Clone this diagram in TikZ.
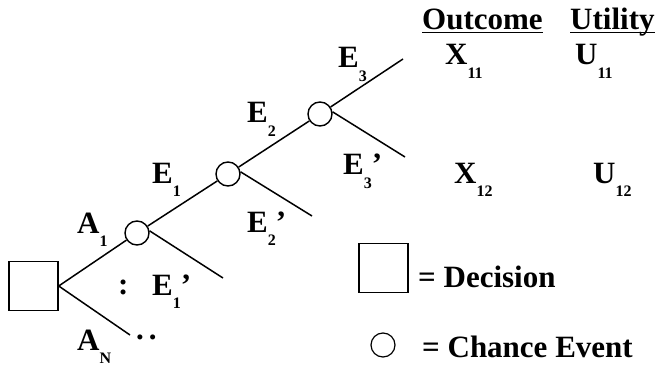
\documentclass[tikz,border=0pt]{standalone}
\usepackage{fontspec}
\setmainfont{Liberation Serif}
\newcommand{\lo}[1]{\raisebox{-0.42em}{\fontsize{16}{16}\selectfont #1}}
\begin{document}
\begin{tikzpicture}[x=1pt,y=-1pt,
    lbl/.style={anchor=base west,inner sep=0pt,font=\fontsize{31}{31}\selectfont\bfseries},
    chance/.style={draw,circle,line width=1.4pt,minimum size=24pt,inner sep=0pt},
    decision/.style={draw,rectangle,line width=1.4pt,minimum width=49pt,minimum height=49pt,inner sep=0pt},
    branch/.style={line width=1.5pt}]
            \useasboundingbox (0,0) rectangle (658,366);

            % Decision node and chance nodes
            \node[decision] (d) at (33.5,286) {};
            \node[chance] (c1) at (137,233) {};
            \node[chance] (c2) at (228,174) {};
            \node[chance] (c3) at (320,114) {};

            % Free branch ends
            \coordinate (aN) at (130,335);
            \coordinate (e1p) at (223,278);
            \coordinate (e2p) at (312,216);
            \coordinate (e3) at (403,59);
            \coordinate (e3p) at (405,157);

            % Branches
            \draw[branch] (d.east) -- (c1);
            \draw[branch] (d.east) -- (aN);
            \draw[branch] (c1) -- (c2);
            \draw[branch] (c2) -- (c3);
            \draw[branch] (c3) -- (e3);
            \foreach \from/\to in {c1/e1p, c2/e2p, c3/e3p} {
                \draw[branch] (\from.10) -- (\to);
            }

            % Branch labels
            \foreach \nm/\x/\y/\txt in {a1/77/233/A\lo{1}, an/77/350/A\lo{N},
                    col/118/294/:, dots/136/339/.\kern5pt., e1/152/183/E\lo{1},
                    e1q/152/295/E\lo{1}’, e2/247/123/E\lo{2}, e2q/247/232/E\lo{2}’,
                    e3l/338/68/E\lo{3}, e3q/343/175/E\lo{3}’} {
                \node[lbl] (\nm) at (\x,\y) {\txt};
            }

            % Outcomes and utilities
            \node[lbl] (out) at (422,30) {Outcome};
            \node[lbl] (util) at (570,30) {Utility};
            \draw[line width=1.2pt] ([yshift=-2.5pt]out.base west) -- ([yshift=-2.5pt]out.base east);
            \draw[line width=1.2pt] ([yshift=-2.5pt]util.base west) -- ([yshift=-2.5pt]util.base east);
            \node[lbl] (x11) at (445,65) {X\lo{11}};
            \node[lbl] (u11) at (575,65) {U\lo{11}};
            \node[lbl] (x12) at (454,183) {X\lo{12}};
            \node[lbl] (u12) at (593,183) {U\lo{12}};

            % Legend
            \node[decision] (ld) at (383.5,268) {};
            \node[chance,line width=1.2pt] (lc) at (383,345) {};
            \node[lbl] (ldt) at (418,287) {= Decision};
            \node[lbl] (lct) at (422,357) {= Chance Event};
\end{tikzpicture}
\end{document}
